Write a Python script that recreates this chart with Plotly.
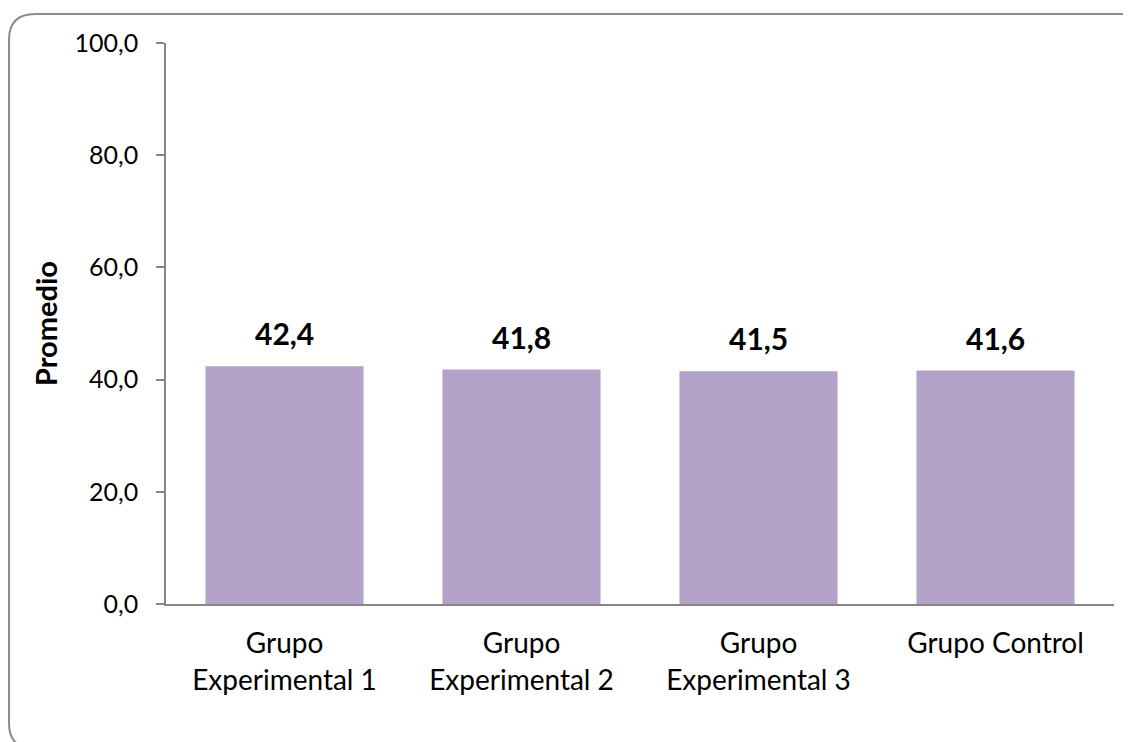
import plotly.graph_objects as go

categories = ["Grupo<br>Experimental 1", "Grupo<br>Experimental 2", "Grupo<br>Experimental 3", "Grupo Control"]
values = [42.4, 41.8, 41.5, 41.6]
y_ticks = [0, 20, 40, 60, 80, 100]

FONT = "Lato"
OFF = 8  # page body margin offset
W, H = 1131 - OFF, 742 - OFF
L, T = 166 - OFF, 43 - OFF
R = W - (1114 - OFF)
B = H - (604 - OFF)
pw, ph = W - L - R, H - T - B

def px(x):
    return (x - OFF - L) / pw

def py(y):
    return (H - B - (y - OFF)) / ph

fig = go.Figure(go.Bar(
    x=categories, y=values,
    marker=dict(color="#B3A2C7", line=dict(width=0)),
    width=0.667,
    hoverinfo="skip",
))

for c, v in zip(categories, values):
    fig.add_annotation(
        x=c, y=v, xref="x", yref="y", text=f"{v:.1f}".replace(".", ","),
        showarrow=False, yanchor="bottom", yshift=13,
        font=dict(family=FONT, size=30, color="#000000", weight="bold"),
    )

# rounded chart border
r = 26
x0, y0, x1, y1 = 9, 14, 1147, 749
path = (f"M {px(x0)} {py(y1 - r)} L {px(x0)} {py(y0 + r)} "
        f"Q {px(x0)} {py(y0)} {px(x0 + r)} {py(y0)} "
        f"L {px(x1 - r)} {py(y0)} Q {px(x1)} {py(y0)} {px(x1)} {py(y0 + r)} "
        f"L {px(x1)} {py(y1 - r)} Q {px(x1)} {py(y1)} {px(x1 - r)} {py(y1)} "
        f"L {px(x0 + r)} {py(y1)} Q {px(x0)} {py(y1)} {px(x0)} {py(y1 - r)} Z")

fig.update_layout(
    width=W, height=H,
    margin=dict(l=L, r=R, t=T, b=B, autoexpand=False),
    paper_bgcolor="white", plot_bgcolor="white",
    separators=",.",
    showlegend=False,
    font=dict(family=FONT, color="#000000"),
    shapes=[dict(type="path", path=path, xref="paper", yref="paper",
                 line=dict(color="#8C8C8C", width=2), layer="below")],
    xaxis=dict(
        showline=True, linecolor="#868686", linewidth=1.5,
        ticks="", showgrid=False,
        tickfont=dict(family=FONT, size=28, color="#000000"),
        ticklabelstandoff=14,
    ),
    yaxis=dict(
        range=[0, 100], tickvals=y_ticks, tickformat=".1f",
        showline=True, linecolor="#868686", linewidth=1.5,
        ticks="outside", ticklen=8, tickcolor="#868686", tickwidth=1.5,
        showgrid=False, zeroline=False,
        tickfont=dict(family=FONT, size=25, color="#000000"),
        ticklabelstandoff=13,
        title=dict(text="Promedio", standoff=8,
                   font=dict(family=FONT, size=29, color="#000000", weight="bold")),
    ),
)

fig.write_html("out.html")
